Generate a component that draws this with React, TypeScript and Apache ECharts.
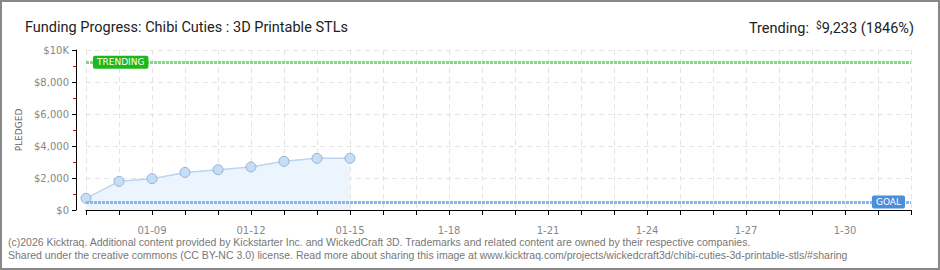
import React, { useEffect, useRef } from "react";
import * as echarts from "echarts";

const categories = [
  "01-07","01-08","01-09","01-10","01-11","01-12","01-13","01-14","01-15",
  "1-16","1-17","1-18","1-19","1-20","1-21","1-22","1-23","1-24","1-25",
  "1-26","1-27","1-28","1-29","1-30","1-31","2-01",
];
const pledged = [730, 1790, 1960, 2350, 2520, 2690, 3040, 3230, 3230];
const goal = 500;
const trending = 9233;
const yTicks = [0, 2000, 4000, 6000, 8000, 10000];
const titleText = "Funding Progress: Chibi Cuties : 3D Printable STLs";
const trendingLabel = "Trending:";
const trendingValue = "9,233 (1846%)";
const footer1 =
  "(c)2026 Kicktraq. Additional content provided by Kickstarter Inc. and WickedCraft 3D. Trademarks and related content are owned by their respective companies.";
const footer2 =
  "Shared under the creative commons (CC BY-NC 3.0) license. Read more about sharing this image at www.kicktraq.com/projects/wickedcraft3d/chibi-cuties-3d-printable-stls/#sharing";

export default function App() {
  const ref = useRef<HTMLDivElement>(null);
  useEffect(() => {
    document.body.style.margin = "0";
    const chart = echarts.init(ref.current!, null, { renderer: "svg" });
    const labelFont = "DejaVu Sans";
    const titleFont = "Roboto";
    const tagLabel = (text: string, pos: string, dist: number, bg: string) => ({
      show: true,
      formatter: text,
      position: pos,
      distance: dist,
      backgroundColor: bg,
      color: "#fff",
      fontSize: 9,
      fontWeight: "normal",
      fontFamily: labelFont,
      padding: [2, 4, 2, 4],
      borderRadius: 2,
    });
    chart.setOption({
      animation: false,
      backgroundColor: "#fff",
      textStyle: { fontFamily: labelFont },
      title: [
        {
          text: titleText,
          left: 20,
          top: 15,
          textStyle: {
            fontFamily: titleFont,
            fontSize: 14.5,
            fontWeight: "normal",
            color: "#222",
          },
        },
        {
          text: "{a|" + trendingLabel + "  }{s|$}{a|" + trendingValue + "}",
          right: 21,
          top: 15,
          textStyle: {
            fontWeight: "normal",
            rich: {
              a: {
                fontFamily: titleFont,
                fontSize: 14.5,
                fontWeight: "normal",
                color: "#222",
              },
              s: {
                fontFamily: titleFont,
                fontSize: 10,
                fontWeight: "normal",
                color: "#222",
                verticalAlign: "top",
                padding: [0, 0, 6, 0],
              },
            },
          },
        },
      ],
      grid: { left: 86, right: 29, top: 50, bottom: 60 },
      xAxis: {
        type: "category",
        data: categories,
        boundaryGap: false,
        offset: 9,
        axisLine: { lineStyle: { color: "#000", width: 1 } },
        axisTick: { show: true, interval: 0, length: 5, lineStyle: { color: "#000" } },
        axisLabel: {
          interval: (i: number) => i % 3 === 2,
          color: "#888",
          fontSize: 10,
          margin: 6,
          fontFamily: labelFont,
        },
        splitLine: {
          show: true,
          interval: 0,
          lineStyle: { color: "#e4e4e4", type: [5, 4] },
        },
      },
      yAxis: {
        type: "value",
        min: yTicks[0],
        max: yTicks[yTicks.length - 1],
        interval: yTicks[1] - yTicks[0],
        offset: 10,
        name: "PLEDGED",
        nameLocation: "middle",
        nameGap: 52,
        nameRotate: 90,
        nameTextStyle: { color: "#666", fontSize: 9, fontFamily: labelFont },
        axisLine: { show: true, lineStyle: { color: "#000" } },
        axisTick: { show: true, length: 4, lineStyle: { color: "#000" } },
        minorTick: { show: true, splitNumber: 2, length: 3, lineStyle: { color: "#e00" } },
        axisLabel: {
          color: "#888",
          fontSize: 10,
          margin: 7,
          fontFamily: labelFont,
          formatter: (v: number) =>
            v >= 10000 ? "$" + v / 1000 + "K" : "$" + v.toLocaleString("en-US"),
        },
        splitLine: { show: true, lineStyle: { color: "#e4e4e4", type: [5, 4] } },
      },
      series: [
        {
          type: "line",
          data: pledged,
          symbol: "circle",
          symbolSize: 10,
          itemStyle: { color: "#c6ddf6", borderColor: "#97b3d3", borderWidth: 1 },
          lineStyle: { color: "#b9d5f2", width: 1.5 },
          areaStyle: { color: "#ecf4fd", opacity: 1 },
          z: 3,
        },
        {
          type: "line",
          data: [],
          z: 4,
          markLine: {
            silent: true,
            symbol: "none",
            z: 4,
            data: [
              {
                yAxis: trending,
                lineStyle: { color: "#86d686", width: 3, type: [3, 1] },
                label: tagLabel("TRENDING", "insideStart", 7, "#1cb81c"),
              },
              {
                yAxis: goal,
                lineStyle: { color: "#8ab5e6", width: 3, type: [3, 1] },
                label: tagLabel("GOAL", "insideEnd", 6, "#4a8edc"),
              },
            ],
          },
        },
      ],
      graphic: [
        {
          type: "rect",
          shape: { x: 1, y: 1, width: 938, height: 268 },
          style: { fill: "none", stroke: "#888", lineWidth: 2 },
          silent: true,
        },
        {
          type: "text",
          left: 8,
          top: 236,
          style: { text: footer1, fill: "#777", fontSize: 10.5, fontFamily: "Liberation Sans" },
        },
        {
          type: "text",
          left: 8,
          top: 249,
          style: { text: footer2, fill: "#777", fontSize: 10.5, fontFamily: "Liberation Sans" },
        },
      ],
    });
    return () => chart.dispose();
  }, []);
  return <div ref={ref} style={{ width: 940, height: 270 }} />;
}
